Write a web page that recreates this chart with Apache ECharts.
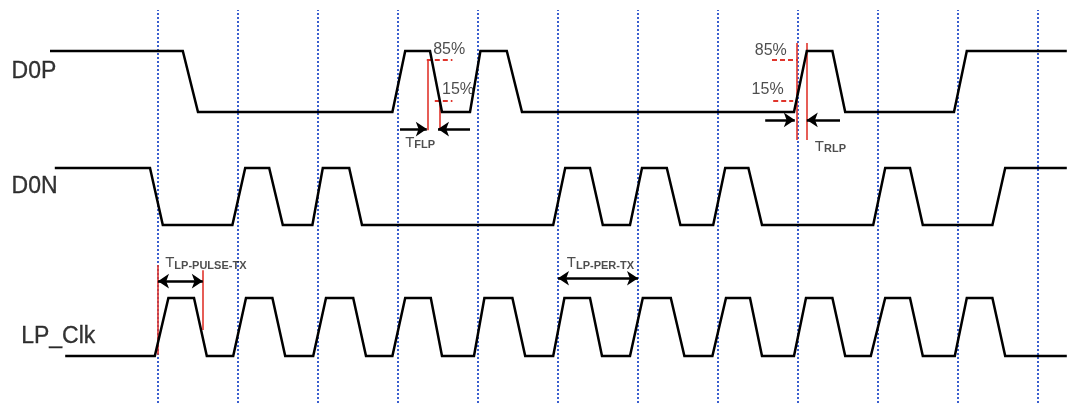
<!DOCTYPE html>
<html>
<head>
<meta charset="utf-8">
<script src="https://cdn.jsdelivr.net/npm/echarts@6/dist/echarts.min.js"></script>
<style>
html,body{margin:0;padding:0;background:#fff;}
#c{width:1067px;height:403px;}
</style>
</head>
<body>
<div id="c"></div>
<script>
// ---- time axis: dotted reference lines at integer time units ----
const TIME_MIN = -0.975;
const TIME_MAX = 12.3625;
const GRID_TIMES = [1, 2, 3, 4, 5, 6, 7, 8, 9, 10, 11, 12];

// ---- signal names ----
const SIGNALS = ['D0P', 'D0N', 'LP_Clk'];

// ---- waveforms: [time, logic level] ----
const D0P = [
  [-0.35, 1], [1.31, 1], [1.5, 0], [3.93, 0], [4.09, 1], [4.4, 1], [4.55, 0],
  [4.9, 0], [5.03, 1], [5.36, 1], [5.55, 0], [8.95, 0], [9.11, 1], [9.43, 1],
  [9.59, 0], [10.95, 0], [11.11, 1], [12.36, 1]
];
const D0N = [
  [-0.29, 1], [0.9, 1], [1.06, 0], [1.93, 0], [2.09, 1], [2.39, 1], [2.56, 0],
  [2.93, 0], [3.06, 1], [3.39, 1], [3.55, 0], [5.94, 0], [6.09, 1], [6.4, 1],
  [6.56, 0], [6.9, 0], [7.05, 1], [7.36, 1], [7.53, 0], [7.94, 0], [8.09, 1],
  [8.38, 1], [8.55, 0], [9.94, 0], [10.09, 1], [10.4, 1], [10.56, 0],
  [11.43, 0], [11.59, 1], [12.36, 1]
];
const LP_CLK = [
  [-0.16, 0], [0.96, 0], [1.13, 1], [1.45, 1], [1.61, 0], [1.94, 0], [2.1, 1],
  [2.43, 1], [2.59, 0], [2.94, 0], [3.1, 1], [3.44, 1], [3.6, 0], [3.93, 0],
  [4.09, 1], [4.41, 1], [4.55, 0], [4.95, 0], [5.08, 1], [5.43, 1], [5.59, 0],
  [5.94, 0], [6.08, 1], [6.4, 1], [6.55, 0], [6.9, 0], [7.06, 1], [7.41, 1],
  [7.58, 0], [7.93, 0], [8.1, 1], [8.4, 1], [8.55, 0], [8.95, 0], [9.1, 1],
  [9.43, 1], [9.59, 0], [9.91, 0], [10.09, 1], [10.4, 1], [10.56, 0],
  [10.96, 0], [11.11, 1], [11.43, 1], [11.59, 0], [12.36, 0]
];
const WAVES = [D0P, D0N, LP_CLK];

// ---- annotations (time, level in the lane's own scale) ----
const LEVEL_LABELS = ['85%', '15%'];
const D0P_RED_MARKERS = [
  [[4.375, 0.86], [4.375, -0.3]], [[4.525, 0.18], [4.525, -0.3]],
  [[8.99, 1.13], [8.99, -0.46]], [[9.11, 1.13], [9.11, -0.46]]
];
const D0P_RED_LEVELS = [
  [[4.36, 0.86], [4.68, 0.86]], [[4.46, 0.18], [4.68, 0.18]],
  [[8.675, 0.86], [9.0, 0.86]], [[8.69, 0.18], [8.94, 0.18]]
];
const D0P_ARROWS = [
  [[4.025, -0.28], [4.36, -0.28]], [[4.9, -0.28], [4.5, -0.28]],
  [[8.59, -0.13], [8.96, -0.13]], [[9.525, -0.13], [9.11, -0.13]]
];
const CLK_RED_MARKERS = [
  [[1.0, 1.57], [1.0, 0.02]], [[1.56, 1.48], [1.56, 0.45]]
];
const CLK_ARROWS = [
  [[1.0, 1.29], [1.56, 1.29]], [[6.0, 1.34], [7.0, 1.34]]
];

// ---- chart setup ----
const lanes = [
  { top: 51, height: 61 },
  { top: 168, height: 57 },
  { top: 298, height: 58 }
];
const grids = lanes.map(l => ({ left: 0, right: 0, top: l.top, height: l.height }));
grids.push({ left: 0, right: 0, top: 10, bottom: 0 });

const xAxes = grids.map((g, i) => ({ type: 'value', gridIndex: i, min: TIME_MIN, max: TIME_MAX, show: false }));
const yAxes = grids.map((g, i) => ({ type: 'value', gridIndex: i, min: 0, max: 1, show: false }));

const series = [];

// dotted vertical reference lines
series.push({
  type: 'lines', coordinateSystem: 'cartesian2d', xAxisIndex: 3, yAxisIndex: 3,
  data: GRID_TIMES.map(t => ({ coords: [[t, 0], [t, 1]] })),
  lineStyle: { color: '#3a5fd0', width: 2, type: [2, 2], opacity: 1 },
  symbol: 'none', z: 1, silent: true
});

// waveforms
WAVES.forEach((w, i) => {
  series.push({
    type: 'line', xAxisIndex: i, yAxisIndex: i, data: w, symbol: 'none',
    lineStyle: { color: '#000', width: 2.5, join: 'miter' }, clip: false, z: 5
  });
});

// signal names
const NAME_POS = [[-0.83, 0.66], [-0.83, 0.67], [-0.71, 0.34]];
SIGNALS.forEach((s, i) => {
  series.push({
    type: 'scatter', xAxisIndex: i, yAxisIndex: i, symbolSize: 0, clip: false, z: 6,
    data: [{ value: NAME_POS[i], name: s }],
    label: {
      show: true, position: 'right', distance: 0, formatter: '{b}',
      fontFamily: 'Liberation Sans', fontSize: 23, color: '#000',
      textBorderColor: '#000', textBorderWidth: 0.3
    }
  });
});

// red marker lines
series.push({
  type: 'lines', coordinateSystem: 'cartesian2d', xAxisIndex: 0, yAxisIndex: 0,
  data: D0P_RED_MARKERS.map(c => ({ coords: c })), symbol: 'none', clip: false,
  lineStyle: { color: '#e0352c', width: 1.6, opacity: 1 }, z: 4
});
series.push({
  type: 'lines', coordinateSystem: 'cartesian2d', xAxisIndex: 0, yAxisIndex: 0,
  data: D0P_RED_LEVELS.map(c => ({ coords: c })), symbol: 'none', clip: false,
  lineStyle: { color: '#e0352c', width: 2, type: [5, 3], opacity: 1 }, z: 4
});
series.push({
  type: 'lines', coordinateSystem: 'cartesian2d', xAxisIndex: 2, yAxisIndex: 2,
  data: CLK_RED_MARKERS.map(c => ({ coords: c })), symbol: 'none', clip: false,
  lineStyle: { color: '#e0352c', width: 1.6, opacity: 1 }, z: 4
});

// arrows
series.push({
  type: 'lines', coordinateSystem: 'cartesian2d', xAxisIndex: 0, yAxisIndex: 0,
  data: D0P_ARROWS.map(c => ({ coords: c })), symbol: ['none', 'arrow'], symbolSize: 11,
  clip: false, lineStyle: { color: '#000', width: 2.5, opacity: 1 }, z: 6
});
series.push({
  type: 'lines', coordinateSystem: 'cartesian2d', xAxisIndex: 2, yAxisIndex: 2,
  data: CLK_ARROWS.map(c => ({ coords: c })), symbol: ['arrow', 'arrow'], symbolSize: 11,
  clip: false, lineStyle: { color: '#000', width: 2.5, opacity: 1 }, z: 6
});

// annotation texts
const pctRich = { fontFamily: 'Liberation Sans', fontSize: 16, color: '#222' };
const subRich = {
  t: { fontFamily: 'Liberation Sans', fontSize: 15, color: '#222', lineHeight: 16 },
  s: { fontFamily: 'Liberation Sans', fontSize: 11, color: '#222', lineHeight: 16, verticalAlign: 'bottom', fontWeight: 'bold' },
  m: { fontFamily: 'Liberation Sans', fontSize: 11, color: '#222', lineHeight: 16, verticalAlign: 'bottom', fontWeight: 'bold' }
};
const D0P_TEXTS = [
  { value: [4.44, 1.02], name: LEVEL_LABELS[0], kind: 'pct' },
  { value: [4.55, 0.36], name: LEVEL_LABELS[1], kind: 'pct' },
  { value: [8.46, 1.0], name: LEVEL_LABELS[0], kind: 'pct' },
  { value: [8.42, 0.36], name: LEVEL_LABELS[1], kind: 'pct' },
  { value: [4.09, -0.5], name: '{t|T}{s|FLP}', kind: 'sub' },
  { value: [9.21, -0.57], name: '{t|T}{s|RLP}', kind: 'sub' }
];
const CLK_TEXTS = [
  { value: [1.09, 1.6], name: '{t|T}{m|LP-PULSE-TX}', kind: 'sub' },
  { value: [6.11, 1.6], name: '{t|T}{m|LP-PER-TX}', kind: 'sub' }
];
function textSeries(idx, items) {
  return {
    type: 'scatter', xAxisIndex: idx, yAxisIndex: idx, symbolSize: 0, clip: false, z: 7,
    data: items.map(it => ({
      value: it.value, name: it.name,
      label: it.kind === 'pct'
        ? Object.assign({ show: true, position: 'right', distance: 0, formatter: '{b}' }, pctRich)
        : { show: true, position: 'right', distance: 0, formatter: '{b}', rich: subRich }
    }))
  };
}
series.push(textSeries(0, D0P_TEXTS));
series.push(textSeries(2, CLK_TEXTS));

const chart = echarts.init(document.getElementById('c'), null, { renderer: 'canvas' });
chart.setOption({
  animation: false,
  backgroundColor: '#fff',
  grid: grids,
  xAxis: xAxes,
  yAxis: yAxes,
  series: series
});
</script>
</body>
</html>
